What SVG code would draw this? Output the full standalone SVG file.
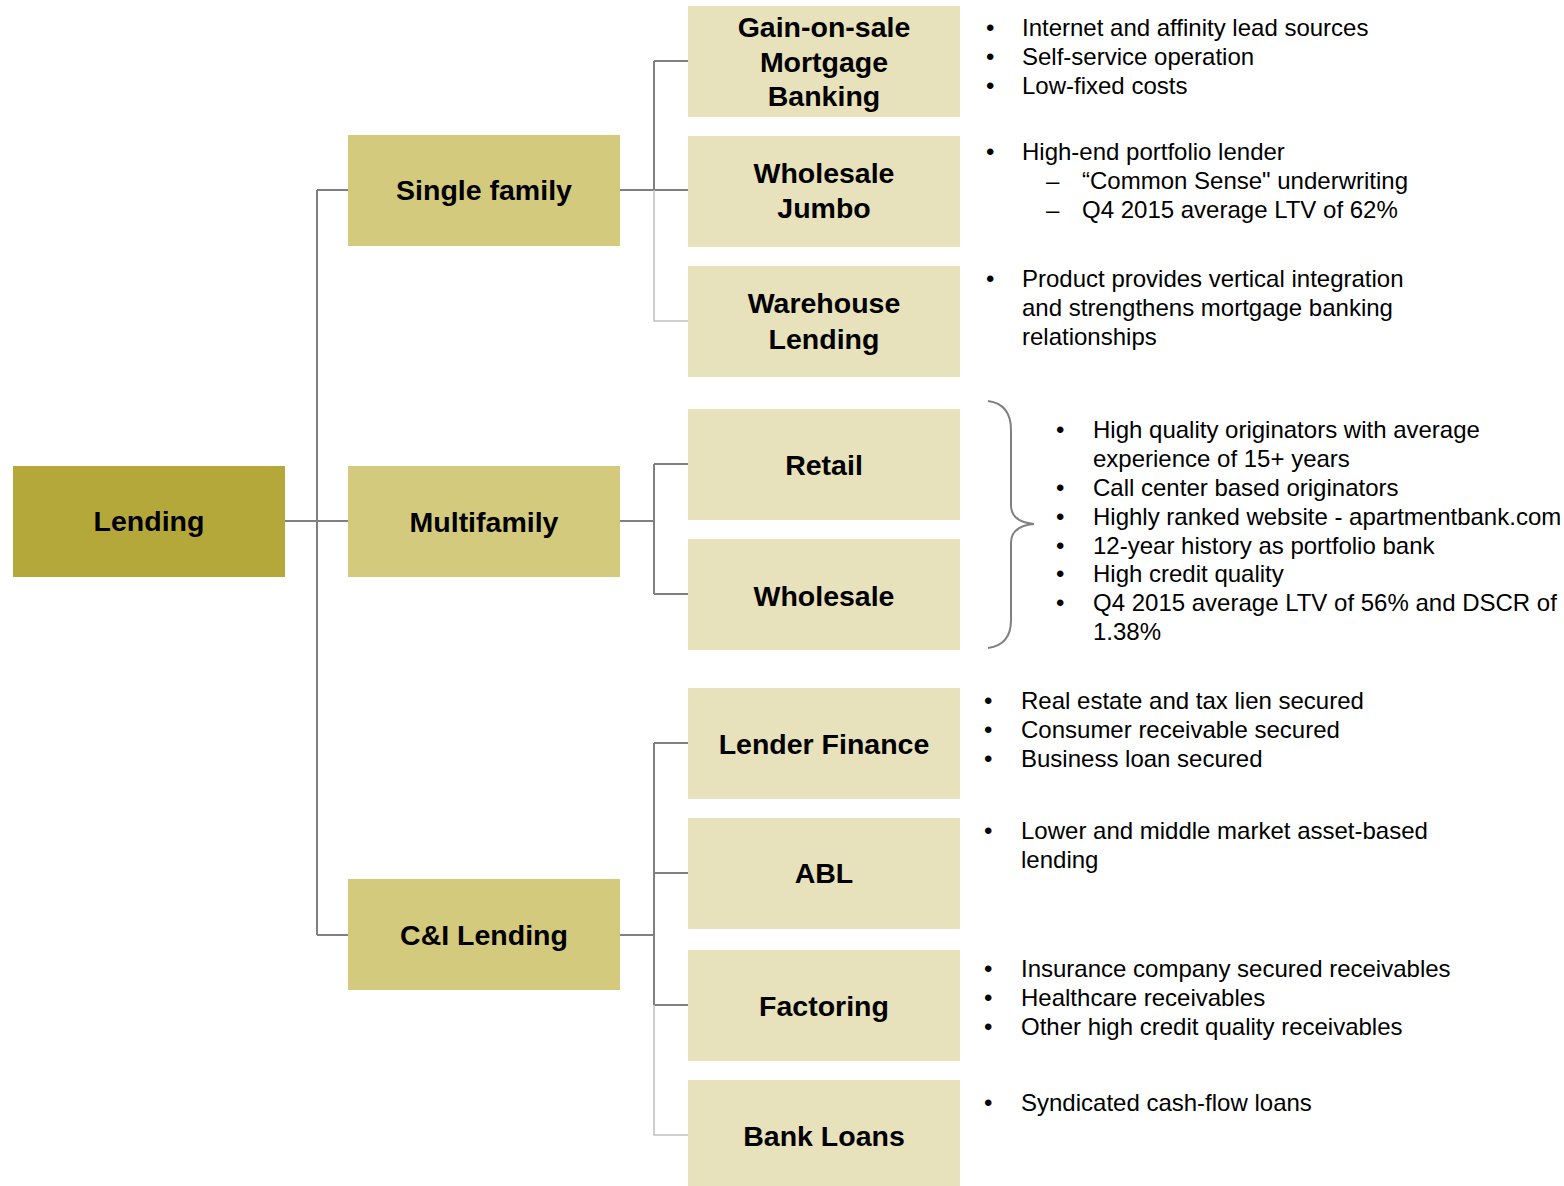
<svg xmlns="http://www.w3.org/2000/svg" width="1564" height="1186" viewBox="0 0 1564 1186">
<style>
.l0{fill:#b5a83b}
.l1{fill:#d4ca7e}
.l2{fill:#e8e2bc}
.lbl{font-family:"Liberation Sans",Arial,sans-serif;font-weight:bold;font-size:28.5px;fill:#000;text-anchor:middle}
.bt{font-family:"Liberation Sans",Arial,sans-serif;font-size:24px;fill:#000}
.c{fill:none;stroke:#808080;stroke-width:2}
.cl{fill:none;stroke:#c0c0c0;stroke-width:1.5}
</style>
<rect width="1564" height="1186" fill="#fff"/>
<g id="connectors">
<path class="c" d="M285 521H317M317 190V935M317 190H348M317 521H348M317 935H348"/>
<path class="c" d="M620 190H654M654 61V190M654 61H688M654 190H688"/>
<path class="cl" d="M654 190V321H688"/>
<path class="c" d="M620 521H654M654 464V594M654 464H688M654 594H688"/>
<path class="c" d="M620 935H654M654 743V1005M654 743H688M654 873H688M654 1005H688"/>
<path class="cl" d="M654 1005V1135H688"/>
<path class="c" d="M988 401Q1011 404 1011 430V505Q1011 522 1034 524Q1011 526 1011 543V620Q1011 645 988 648"/>
</g>
<g id="lending"><rect class="l0" x="13" y="466" width="272" height="111"/><text class="lbl" x="149" y="531">Lending</text></g>
<g id="single-family"><rect class="l1" x="348" y="135" width="272" height="111"/><text class="lbl" x="484" y="200">Single family</text></g>
<g id="multifamily"><rect class="l1" x="348" y="466" width="272" height="111"/><text class="lbl" x="484" y="532">Multifamily</text></g>
<g id="ci-lending"><rect class="l1" x="348" y="879" width="272" height="111"/><text class="lbl" x="484" y="945">C&amp;I Lending</text></g>
<g id="gain-on-sale"><rect class="l2" x="688" y="6" width="272" height="111"/><text class="lbl" x="824" y="37">Gain-on-sale</text><text class="lbl" x="824" y="72">Mortgage</text><text class="lbl" x="824" y="106">Banking</text></g>
<g id="wholesale-jumbo"><rect class="l2" x="688" y="136" width="272" height="111"/><text class="lbl" x="824" y="183">Wholesale</text><text class="lbl" x="824" y="218">Jumbo</text></g>
<g id="warehouse-lending"><rect class="l2" x="688" y="266" width="272" height="111"/><text class="lbl" x="824" y="313">Warehouse</text><text class="lbl" x="824" y="349">Lending</text></g>
<g id="retail"><rect class="l2" x="688" y="409" width="272" height="111"/><text class="lbl" x="824" y="475">Retail</text></g>
<g id="wholesale"><rect class="l2" x="688" y="539" width="272" height="111"/><text class="lbl" x="824" y="606">Wholesale</text></g>
<g id="lender-finance"><rect class="l2" x="688" y="688" width="272" height="111"/><text class="lbl" x="824" y="754">Lender Finance</text></g>
<g id="abl"><rect class="l2" x="688" y="818" width="272" height="111"/><text class="lbl" x="824" y="883">ABL</text></g>
<g id="factoring"><rect class="l2" x="688" y="950" width="272" height="111"/><text class="lbl" x="824" y="1016">Factoring</text></g>
<g id="bank-loans"><rect class="l2" x="688" y="1080" width="272" height="111"/><text class="lbl" x="824" y="1146">Bank Loans</text></g>
<g id="notes-gain">
<text class="bt" x="986" y="36">•</text><text class="bt" x="1022" y="36">Internet and affinity lead sources</text>
<text class="bt" x="986" y="65">•</text><text class="bt" x="1022" y="65">Self-service operation</text>
<text class="bt" x="986" y="94">•</text><text class="bt" x="1022" y="94">Low-fixed costs</text>
</g>
<g id="notes-jumbo">
<text class="bt" x="986" y="160">•</text><text class="bt" x="1022" y="160">High-end portfolio lender</text>
<text class="bt" x="1046" y="189">–</text><text class="bt" x="1082" y="189">“Common Sense" underwriting</text>
<text class="bt" x="1046" y="218">–</text><text class="bt" x="1082" y="218">Q4 2015 average LTV of 62%</text>
</g>
<g id="notes-warehouse">
<text class="bt" x="986" y="287">•</text><text class="bt" x="1022" y="287">Product provides vertical integration</text>
<text class="bt" x="1022" y="316">and strengthens mortgage banking</text>
<text class="bt" x="1022" y="345">relationships</text>
</g>
<g id="notes-multifamily">
<text class="bt" x="1056" y="438">•</text><text class="bt" x="1093" y="438">High quality originators with average</text>
<text class="bt" x="1093" y="467">experience of 15+ years</text>
<text class="bt" x="1056" y="496">•</text><text class="bt" x="1093" y="496">Call center based originators</text>
<text class="bt" x="1056" y="525">•</text><text class="bt" x="1093" y="525">Highly ranked website - apartmentbank.com</text>
<text class="bt" x="1056" y="554">•</text><text class="bt" x="1093" y="554">12-year history as portfolio bank</text>
<text class="bt" x="1056" y="582">•</text><text class="bt" x="1093" y="582">High credit quality</text>
<text class="bt" x="1056" y="611">•</text><text class="bt" x="1093" y="611">Q4 2015 average LTV of 56% and DSCR of</text>
<text class="bt" x="1093" y="640">1.38%</text>
</g>
<g id="notes-lender">
<text class="bt" x="984" y="709">•</text><text class="bt" x="1021" y="709">Real estate and tax lien secured</text>
<text class="bt" x="984" y="738">•</text><text class="bt" x="1021" y="738">Consumer receivable secured</text>
<text class="bt" x="984" y="767">•</text><text class="bt" x="1021" y="767">Business loan secured</text>
</g>
<g id="notes-abl">
<text class="bt" x="984" y="839">•</text><text class="bt" x="1021" y="839">Lower and middle market asset-based</text>
<text class="bt" x="1021" y="868">lending</text>
</g>
<g id="notes-factoring">
<text class="bt" x="984" y="977">•</text><text class="bt" x="1021" y="977">Insurance company secured receivables</text>
<text class="bt" x="984" y="1006">•</text><text class="bt" x="1021" y="1006">Healthcare receivables</text>
<text class="bt" x="984" y="1035">•</text><text class="bt" x="1021" y="1035">Other high credit quality receivables</text>
</g>
<g id="notes-bank">
<text class="bt" x="984" y="1111">•</text><text class="bt" x="1021" y="1111">Syndicated cash-flow loans</text>
</g>
</svg>
